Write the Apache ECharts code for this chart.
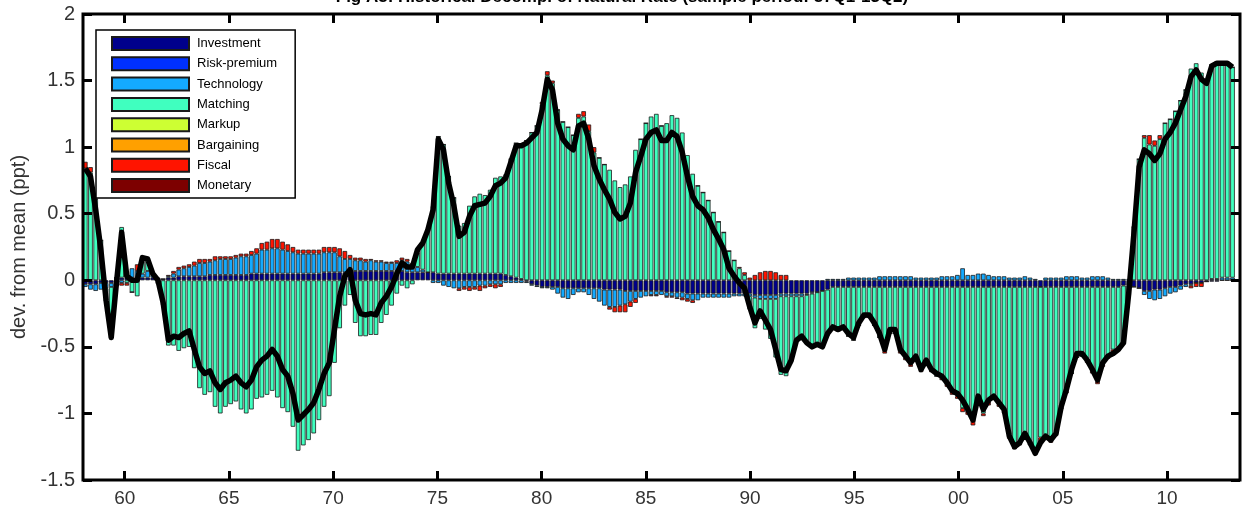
<!DOCTYPE html>
<html><head><meta charset="utf-8">
<script src="https://cdn.jsdelivr.net/npm/echarts@6/dist/echarts.min.js"></script>
<style>html,body{margin:0;padding:0;background:#fff}#c{width:1244px;height:509px}</style>
</head><body><div id="c"></div>
<script>
// quarterly observations, 1958Q1 .. 2013Q2 (plotted at year + (q-1)/4)
const startYear = 1958;
const seriesNames = ["Investment","Risk-premium","Technology","Matching","Markup","Bargaining","Fiscal","Monetary"];
const seriesColors = ["#00008c","#0030ff","#14aaff","#40ffbf","#cdff33","#ffa000","#ff1400","#7d0000"];
const yearTicks = [1960,1965,1970,1975,1980,1985,1990,1995,2000,2005,2010];

const total = [
 0.84,0.78,0.53,0.23, -0.15,-0.43,-0.02,0.36, 0.03,0.00,0.00,0.17, 0.16,0.05,0.00,-0.17,
 -0.45,-0.42,-0.43,-0.40, -0.38,-0.52,-0.65,-0.70, -0.68,-0.77,-0.82,-0.77, -0.75,-0.72,-0.77,-0.80,
 -0.75,-0.65,-0.60,-0.57, -0.52,-0.57,-0.67,-0.72, -0.85,-1.05,-1.01,-0.97, -0.92,-0.82,-0.70,-0.62,
 -0.37,-0.12,0.03,0.08, -0.15,-0.25,-0.26,-0.25, -0.26,-0.17,-0.12,-0.05, 0.05,0.13,0.10,0.10,
 0.23,0.28,0.38,0.53, 1.06,0.98,0.73,0.56, 0.33,0.36,0.48,0.56, 0.57,0.58,0.63,0.71,
 0.73,0.77,0.89,1.01, 1.01,1.03,1.07,1.11, 1.28,1.51,1.43,1.18, 1.06,1.01,0.98,1.16,
 1.18,1.06,0.86,0.76, 0.68,0.61,0.51,0.46, 0.48,0.58,0.81,0.93, 1.06,1.11,1.13,1.05,
 1.05,1.11,1.08,0.96, 0.78,0.63,0.56,0.53, 0.47,0.38,0.31,0.23, 0.09,0.03,-0.02,-0.06,
 -0.20,-0.32,-0.23,-0.30, -0.37,-0.52,-0.67,-0.68, -0.60,-0.45,-0.42,-0.47, -0.50,-0.48,-0.50,-0.40,
 -0.35,-0.37,-0.35,-0.40, -0.43,-0.32,-0.26,-0.26, -0.32,-0.40,-0.52,-0.37, -0.37,-0.52,-0.57,-0.62,
 -0.57,-0.67,-0.60,-0.67, -0.70,-0.72,-0.77,-0.83, -0.85,-0.90,-0.97,-1.05, -0.87,-0.97,-0.90,-0.87,
 -0.92,-0.97,-1.17,-1.25, -1.22,-1.15,-1.22,-1.30, -1.22,-1.17,-1.20,-1.15, -0.95,-0.82,-0.67,-0.55,
 -0.55,-0.60,-0.67,-0.75, -0.62,-0.57,-0.55,-0.52, -0.47,-0.10,0.35,0.85, 0.98,0.95,0.90,0.95,
 1.06,1.11,1.18,1.28, 1.38,1.53,1.58,1.51, 1.48,1.61,1.63,1.63, 1.63,1.60
];

const matching = [
 0.84,0.81,0.61,0.30, -0.09,-0.38,-0.04,0.38, -0.02,-0.09,-0.12,0.09, 0.09,0.00,-0.02,-0.18,
 -0.49,-0.49,-0.53,-0.51, -0.50,-0.66,-0.81,-0.86, -0.84,-0.95,-1.00,-0.95, -0.93,-0.91,-0.97,-1.00,
 -0.97,-0.89,-0.88,-0.86, -0.83,-0.88,-0.96,-0.99, -1.10,-1.28,-1.24,-1.20, -1.15,-1.05,-0.95,-0.87,
 -0.62,-0.36,-0.19,-0.11, -0.32,-0.42,-0.42,-0.41, -0.41,-0.32,-0.26,-0.19, -0.10,-0.04,-0.06,-0.03,
 0.11,0.20,0.32,0.49, 1.03,0.97,0.73,0.57, 0.36,0.38,0.51,0.58, 0.60,0.59,0.63,0.72,
 0.73,0.75,0.88,1.01, 1.00,1.05,1.11,1.16, 1.32,1.54,1.48,1.28, 1.19,1.15,1.09,1.22,
 1.23,1.12,0.96,0.92, 0.87,0.83,0.75,0.70, 0.72,0.78,0.98,1.06, 1.18,1.23,1.25,1.16,
 1.18,1.24,1.22,1.11, 0.94,0.80,0.71,0.66, 0.60,0.51,0.44,0.36, 0.22,0.15,0.09,0.04,
 -0.10,-0.23,-0.15,-0.23, -0.30,-0.44,-0.59,-0.60, -0.48,-0.33,-0.30,-0.36, -0.40,-0.39,-0.42,-0.34,
 -0.30,-0.33,-0.31,-0.37, -0.40,-0.29,-0.23,-0.23, -0.29,-0.38,-0.48,-0.35, -0.35,-0.48,-0.53,-0.58,
 -0.52,-0.61,-0.57,-0.61, -0.67,-0.68,-0.72,-0.78, -0.82,-0.91,-0.93,-0.99, -0.87,-0.95,-0.86,-0.83,
 -0.88,-0.93,-1.11,-1.19, -1.16,-1.13,-1.17,-1.23, -1.13,-1.11,-1.13,-1.09, -0.90,-0.78,-0.65,-0.53,
 -0.52,-0.54,-0.63,-0.71, -0.58,-0.52,-0.47,-0.45, -0.41,-0.07,0.40,0.91, 1.07,1.02,1.01,1.06,
 1.18,1.21,1.27,1.35, 1.43,1.59,1.63,1.56, 1.49,1.61,1.63,1.61, 1.61,1.58
];

const investment = [
 -0.03,-0.03,-0.03,-0.02, -0.02,-0.02,0.02,0.02, 0.02,0.02,0.02,0.02, 0.02,0.02,0.00,0.01,
 0.02,0.02,0.03,0.03, 0.03,0.03,0.03,0.03, 0.04,0.04,0.04,0.04, 0.04,0.04,0.04,0.04,
 0.05,0.05,0.05,0.05, 0.05,0.05,0.05,0.05, 0.05,0.05,0.05,0.05, 0.05,0.05,0.06,0.06,
 0.06,0.06,0.06,0.06, 0.07,0.07,0.07,0.07, 0.07,0.07,0.07,0.07, 0.07,0.07,0.06,0.06,
 0.06,0.06,0.06,0.06, 0.05,0.05,0.05,0.05, 0.05,0.05,0.05,0.05, 0.05,0.05,0.05,0.05,
 0.05,0.04,0.03,0.02, 0.01,-0.01,-0.03,-0.04, -0.05,-0.05,-0.05,-0.05, -0.06,-0.06,-0.06,-0.06,
 -0.06,-0.06,-0.06,-0.06, -0.07,-0.07,-0.07,-0.07, -0.08,-0.08,-0.08,-0.08, -0.08,-0.08,-0.08,-0.08,
 -0.09,-0.09,-0.09,-0.09, -0.10,-0.10,-0.10,-0.10, -0.10,-0.10,-0.10,-0.10, -0.10,-0.10,-0.10,-0.10,
 -0.10,-0.11,-0.11,-0.11, -0.11,-0.11,-0.10,-0.10, -0.10,-0.10,-0.10,-0.10, -0.09,-0.09,-0.08,-0.07,
 -0.05,-0.05,-0.05,-0.05, -0.05,-0.05,-0.05,-0.05, -0.05,-0.05,-0.05,-0.05, -0.05,-0.05,-0.05,-0.05,
 -0.05,-0.05,-0.05,-0.05, -0.05,-0.05,-0.05,-0.05, -0.05,-0.05,-0.05,-0.05, -0.05,-0.05,-0.05,-0.05,
 -0.05,-0.05,-0.05,-0.05, -0.05,-0.05,-0.05,-0.05, -0.05,-0.05,-0.05,-0.05, -0.05,-0.05,-0.05,-0.05,
 -0.05,-0.05,-0.05,-0.05, -0.05,-0.05,-0.05,-0.05, -0.04,-0.04,-0.05,-0.06, -0.08,-0.08,-0.07,-0.07,
 -0.06,-0.05,-0.05,-0.04, -0.03,-0.03,-0.02,-0.02, -0.01,-0.01,-0.01,0.00, 0.00,0.00
];

const technology = [
 -0.02,-0.04,-0.05,-0.05, -0.04,-0.03,0.00,-0.02, 0.05,0.07,0.05,0.03, 0.05,0.03,0.02,0.00,
 0.01,0.03,0.05,0.06, 0.07,0.08,0.10,0.10, 0.10,0.11,0.12,0.12, 0.12,0.13,0.14,0.14,
 0.14,0.15,0.18,0.18, 0.19,0.19,0.18,0.17, 0.16,0.15,0.15,0.15, 0.15,0.15,0.15,0.15,
 0.15,0.12,0.10,0.10, 0.08,0.08,0.07,0.08, 0.07,0.07,0.06,0.06, 0.06,0.08,0.08,0.05,
 0.04,0.02,0.00,-0.02, -0.02,-0.04,-0.05,-0.06, -0.06,-0.05,-0.05,-0.05, -0.04,-0.04,-0.03,-0.03,
 -0.03,-0.02,-0.02,-0.02, -0.02,-0.01,-0.01,-0.01, -0.01,-0.01,-0.02,-0.05, -0.07,-0.08,-0.05,-0.03,
 -0.03,-0.05,-0.08,-0.10, -0.12,-0.13,-0.13,-0.12, -0.10,-0.08,-0.06,-0.05, -0.04,-0.03,-0.03,-0.03,
 -0.03,-0.03,-0.04,-0.04, -0.04,-0.05,-0.05,-0.03, -0.03,-0.03,-0.03,-0.03, -0.03,-0.02,-0.02,-0.02,
 -0.02,-0.02,-0.03,-0.03, -0.03,-0.03,-0.02,-0.02, -0.02,-0.02,-0.02,-0.01, -0.01,0.00,0.00,0.01,
 0.01,0.01,0.01,0.02, 0.02,0.02,0.02,0.02, 0.02,0.03,0.03,0.03, 0.03,0.03,0.03,0.03,
 0.02,0.02,0.02,0.02, 0.02,0.03,0.03,0.03, 0.04,0.09,0.04,0.04, 0.05,0.05,0.04,0.03,
 0.03,0.03,0.02,0.02, 0.02,0.03,0.02,0.01, 0.00,0.02,0.02,0.02, 0.02,0.03,0.03,0.03,
 0.02,0.02,0.03,0.03, 0.03,0.02,0.01,0.01, 0.01,0.01,0.00,0.00, -0.03,-0.06,-0.08,-0.07,
 -0.06,-0.05,-0.04,-0.03, -0.02,-0.01,0.00,0.00, 0.00,0.01,0.01,0.02, 0.02,0.02
];

const fiscal = [
 0.05,0.04,0.00,0.00, 0.00,0.00,0.00,-0.02, -0.02,0.00,0.05,0.03, 0.00,0.00,0.00,0.00,
 0.01,0.02,0.02,0.02, 0.02,0.03,0.03,0.03, 0.02,0.03,0.02,0.02, 0.02,0.02,0.02,0.02,
 0.03,0.04,0.05,0.06, 0.07,0.07,0.06,0.05, 0.04,0.03,0.03,0.03, 0.03,0.03,0.04,0.04,
 0.04,0.06,0.06,0.03, 0.02,0.02,0.02,0.01, 0.01,0.01,0.01,0.01, 0.02,0.02,0.02,0.02,
 0.02,0.00,0.00,0.00, 0.00,0.00,0.00,0.00, -0.02,-0.02,-0.03,-0.02, -0.04,-0.02,-0.02,-0.03,
 -0.02,0.00,0.00,0.00, 0.02,0.00,0.00,0.00, 0.02,0.03,0.02,0.00, 0.00,0.00,0.00,0.03,
 0.04,0.05,0.04,0.00, 0.00,-0.02,-0.04,-0.05, -0.06,-0.04,-0.03,0.00, 0.00,-0.01,-0.01,0.00,
 -0.01,-0.01,-0.01,-0.02, -0.02,-0.02,0.00,0.00, 0.00,0.00,0.00,0.00, 0.00,0.00,0.01,0.02,
 0.02,0.04,0.06,0.07, 0.07,0.06,0.04,0.04, 0.00,0.00,0.00,0.00, 0.00,0.00,0.00,0.00,
 -0.01,0.00,0.00,0.00, 0.00,0.00,0.00,0.00, 0.00,0.00,-0.02,0.00, 0.00,-0.02,-0.02,-0.02,
 -0.02,-0.03,0.00,-0.03, 0.00,-0.02,-0.03,-0.03, -0.02,-0.03,-0.03,-0.05, 0.00,-0.02,-0.03,-0.02,
 -0.02,-0.02,-0.03,-0.03, -0.03,0.00,-0.02,-0.03, -0.04,-0.03,-0.04,-0.03, -0.02,-0.02,0.00,0.00,
 0.00,-0.03,-0.02,-0.02, -0.02,-0.02,-0.04,-0.03, -0.03,0.00,0.00,0.00, 0.02,0.07,0.04,0.03,
 0.00,0.00,0.00,0.00, 0.00,-0.02,-0.03,-0.03, 0.00,0.00,0.00,0.00, 0.00,0.00
];

// contributions too small to be visible in the figure
const riskPremium = [];
const markup = [];
const bargaining = [];
const monetary = [];

// decimal years mapped linearly onto a time scale (so that ECharts stacks the y values)
const MS_YEAR = 365.25 * 24 * 3600 * 1000;
const toT = yr => (yr - 1970) * MS_YEAR;
const quarters = [];
for (let i = 0; i < total.length; i++) quarters.push(toT(startYear + i * 0.25));
const pairs = arr => arr.map((v, i) => [quarters[i], v]);

const compData = [investment, riskPremium, technology, matching, markup, bargaining, fiscal, monetary];

const chart = echarts.init(document.getElementById('c'), null, {renderer: 'canvas'});
const FONT = '"Liberation Sans", Arial, sans-serif';
const tickStyle = {inside: true, length: 9, lineStyle: {color: '#000', width: 3}};
const RECT = {left: 83, top: 14, width: 1157, height: 466, containLabel: false};

// one stack; series with data first (stack order = legend order), empty ones after
const order = [0, 2, 3, 6, 1, 4, 5, 7];
const barSeries = order.map(i => ({
  name: seriesNames[i], type: 'bar', stack: 'decomp', stackStrategy: 'samesign',
  xAxisIndex: 0, yAxisIndex: 0,
  data: pairs(compData[i]), barWidth: 4.6,
  itemStyle: {color: seriesColors[i], borderColor: '#1a1a1a', borderWidth: 0.8},
  emphasis: {disabled: true}
}));

const hiddenAxis = {axisLine: {show: false}, axisTick: {show: false}, axisLabel: {show: false}, splitLine: {show: false}};

chart.setOption({
  animation: false,
  backgroundColor: '#fff',
  graphic: [{
    type: 'text', left: 'center', top: -11,
    style: {text: 'Fig A5: Historical Decomp. of Natural Rate (sample period: 57Q1-13Q2)',
      font: 'bold 17px ' + FONT, fill: '#000'}
  }, {
    type: 'rect', z: 100, silent: true,
    shape: {x: 83, y: 14, width: 1157, height: 466},
    style: {fill: null, stroke: '#000', lineWidth: 3}
  }],
  grid: [Object.assign({show: false}, RECT), Object.assign({show: false}, RECT)],
  legend: {
    data: seriesNames, orient: 'vertical', left: 96, top: 30, z: 110,
    itemWidth: 77, itemHeight: 13, itemGap: 5.3, icon: 'rect',
    padding: [6, 18, 5, 15],
    backgroundColor: '#fff', borderColor: '#000', borderWidth: 1.5, borderRadius: 0,
    textStyle: {fontFamily: FONT, fontSize: 13, color: '#000', lineHeight: 13, padding: [0, 0, 0, 3]},
    selectedMode: false
  },
  xAxis: [
    Object.assign({type: 'time', gridIndex: 0, min: toT(1958), max: toT(2013.5)}, hiddenAxis),
    {
      type: 'value', gridIndex: 1, min: 1958, max: 2013.5, position: 'bottom', z: 50,
      axisLine: {show: false, onZero: false}, splitLine: {show: false},
      axisTick: Object.assign({customValues: yearTicks}, tickStyle),
      axisLabel: {customValues: yearTicks, margin: 9, fontFamily: '"Liberation Sans Narrow", ' + FONT, fontSize: 19, color: '#333',
        formatter: v => String(Math.round(v) % 100).padStart(2, '0')}
    }, {
      type: 'value', gridIndex: 1, min: 1958, max: 2013.5, position: 'top', z: 50,
      axisLine: {show: false, onZero: false}, splitLine: {show: false},
      axisTick: Object.assign({customValues: yearTicks}, tickStyle),
      axisLabel: {show: false}
    }
  ],
  yAxis: [
    Object.assign({type: 'value', gridIndex: 0, min: -1.5, max: 2}, hiddenAxis),
    {
      type: 'value', gridIndex: 1, min: -1.5, max: 2, interval: 0.5, position: 'left', z: 50,
      axisLine: {show: false, onZero: false}, splitLine: {show: false},
      axisTick: tickStyle,
      axisLabel: {margin: 8, fontFamily: FONT, fontSize: 20, color: '#333'},
      name: 'dev. from mean (ppt)', nameLocation: 'middle', nameGap: 53, nameRotate: 90,
      nameTextStyle: {fontFamily: FONT, fontSize: 20, color: '#333'}
    }, {
      type: 'value', gridIndex: 1, min: -1.5, max: 2, interval: 0.5, position: 'right', z: 50,
      axisLine: {show: false, onZero: false}, splitLine: {show: false},
      axisTick: tickStyle, axisLabel: {show: false}
    }
  ],
  series: barSeries.concat([{
    name: 'Total', type: 'line', xAxisIndex: 0, yAxisIndex: 0,
    data: pairs(total), symbol: 'none', z: 10,
    lineStyle: {color: '#000', width: 5.5, join: 'round'},
    emphasis: {disabled: true}
  }])
});
</script></body></html>
